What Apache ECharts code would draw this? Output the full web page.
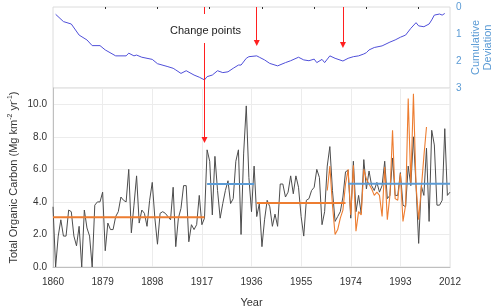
<!DOCTYPE html>
<html>
<head>
<meta charset="utf-8">
<script src="https://cdn.jsdelivr.net/npm/echarts@6/dist/echarts.min.js"></script>
<style>
  html, body { margin: 0; padding: 0; background: #fff; }
  #chart { width: 492px; height: 308px; }
</style>
</head>
<body>
<div id="chart"></div>
<script>
// years on the x axis, 1860..2012
var years = [];
for (var y = 1860; y <= 2012; y++) years.push(String(y));

// annual total organic carbon (grey line), one value per year from 1860
var tocValues = [
  3.7, 0.0, 1.9, 2.9, 1.9, 1.9, 3.5, 3.4, 1.9, 1.3,
  2.5, 0.0, 3.5, 2.4, 1.9, 0.0, 3.8, 4.0, 4.0, 4.6,
  1.0, 2.7, 2.3, 2.3, 3.1, 3.4, 4.3, 4.1, 4.0, 6.0,
  2.1, 3.8, 5.6, 2.7, 3.5, 3.3, 2.5, 4.1, 5.2, 3.0,
  1.4, 3.3, 3.4, 3.3, 3.1, 2.9, 4.9, 1.25, 3.0, 3.6,
  5.0, 5.0, 1.55, 2.6, 2.3, 2.6, 4.4, 2.6, 3.0, 7.2,
  6.5, 3.2, 6.8, 4.7, 3.0, 3.9, 4.7, 5.3, 3.9, 4.2,
  6.5, 7.2, 2.0, 7.0, 9.9, 5.5, 3.4, 6.2, 3.1, 3.9,
  1.25, 2.9, 4.1, 3.7, 2.5, 3.25, 2.5, 5.1, 5.1, 4.3,
  4.6, 5.6, 4.5, 5.6, 4.9, 3.1, 1.9, 4.1, 4.2, 4.7,
  4.9, 6.0, 5.5, 2.6, 3.4, 6.2, 7.4, 4.7, 2.8, 3.1,
  3.4, 4.3, 5.85, 5.95, 3.0, 6.5, 3.4, 4.4, 3.3, 6.6,
  4.8, 5.9, 5.0, 4.7, 5.2, 4.6, 5.0, 6.5, 4.2, 4.4,
  6.7, 4.4, 4.4, 5.8, 3.8, 3.7, 6.2, 5.0, 8.0, 5.0,
  1.45, 5.0, 4.4, 7.3, 2.8, 8.4, 7.5, 3.8, 3.8, 4.1,
  8.5, 4.4, 4.6
];

// second record (orange line), starting 1965
var orangeStart = 1965;
var orangeValues = [
  4.7, 6.2, 3.8, 2.0, 2.3, 3.0, 3.5, 5.1, 6.0, 3.2,
  6.25, 2.2, 3.4, 3.2, 6.0, 5.4, 5.1, 4.8, 4.4, 4.6,
  4.4, 3.1, 6.15, 2.9, 4.4, 8.4, 4.2, 4.1, 5.75, 2.8,
  3.8, 10.35, 5.1, 10.65, 5.0, 2.9, 4.8, 6.8, 8.6
];

// segment means between change points
var segStart = [1860, 1919, 1938, 1973];
var segEnd   = [1918, 1937, 1972, 2012];
var segMean  = [3.05, 5.1, 3.93, 5.12];

// cumulative deviation (top panel), read at these years
var cumYears = [1861, 1864, 1867, 1870, 1873, 1875, 1878, 1880, 1884, 1888,
  1889, 1891, 1892, 1894, 1898, 1900, 1904, 1906, 1907, 1909,
  1911, 1914, 1916, 1918, 1919, 1921, 1923, 1925, 1927, 1929,
  1931, 1932, 1934, 1935, 1938, 1939, 1941, 1943, 1946, 1949,
  1951, 1954, 1956, 1958, 1960, 1961, 1963, 1964, 1966, 1968,
  1971, 1973, 1975, 1977, 1979, 1980, 1981, 1983, 1986, 1989,
  1991, 1993, 1995, 1997, 1999, 2000, 2002, 2004, 2005, 2006,
  2008, 2009, 2010];
var cumValues = [0.27, 0.54, 0.63, 1.04, 1.22, 1.43, 1.43, 1.59, 1.81, 1.81,
  1.71, 1.81, 1.78, 1.86, 1.94, 2.10, 2.21, 2.27, 2.33, 2.46,
  2.36, 2.52, 2.60, 2.70, 2.58, 2.52, 2.36, 2.43, 2.40, 2.27,
  2.15, 2.15, 1.90, 1.84, 1.81, 1.86, 1.96, 2.09, 2.18, 2.06,
  1.99, 1.86, 1.96, 1.99, 1.93, 2.06, 1.94, 2.06, 1.81, 1.90,
  2.00, 1.90, 1.84, 1.81, 1.74, 1.69, 1.59, 1.50, 1.44, 1.30,
  1.22, 1.12, 1.04, 0.79, 0.58, 0.70, 0.73, 0.63, 0.48, 0.30,
  0.26, 0.30, 0.24];

// change point arrows
var changeYears = [1918, 1938, 1971];
var arrowTips = [7.8, 1.33, 1.41]; // first on bottom panel, others on top panel

var RED = '#ff1f1f';
var ORANGE = '#ed7d31';
var BLUE = '#5b9bd5';

// place readings on the year index (gaps stay empty)
function idx(yr) { return yr - 1860; }
function onYears(yrs, vals) {
  var out = years.map(function () { return null; });
  yrs.forEach(function (yr, i) { out[idx(yr)] = vals[i]; });
  return out;
}
var orangeYears = orangeValues.map(function (v, i) { return orangeStart + i; });
var orangeData = onYears(orangeYears, orangeValues);
var cumData = onYears(cumYears, cumValues);

var segSeries = segMean.map(function (m, i) {
  return {
    type: 'line', xAxisIndex: 0, yAxisIndex: 0,
    data: onYears([segStart[i], segEnd[i]], [m, m]),
    connectNulls: true,
    symbol: 'none',
    lineStyle: { color: i % 2 === 0 ? ORANGE : BLUE, width: 2 },
    z: 4
  };
});

var chart = echarts.init(document.getElementById('chart'));
chart.setOption({
  animation: false,
  textStyle: { fontFamily: 'Liberation Sans' },
  grid: [
    { left: 53, right: 42, top: 88, bottom: 41, outerBoundsMode: 'none',
      show: true, borderColor: '#e2e2e2', borderWidth: 1 },
    { left: 53, right: 42, top: 7, height: 81, outerBoundsMode: 'none',
      show: true, borderColor: '#dcdcdc', borderWidth: 1 }
  ],
  xAxis: [
    {
      type: 'category', gridIndex: 0, data: years.slice(), boundaryGap: false,
      name: 'Year', nameLocation: 'middle', nameGap: 30,
      nameTextStyle: { fontSize: 11, color: '#333' },
      axisLine: { lineStyle: { color: '#bfbfbf' } },
      axisTick: { show: false },
      axisLabel: { interval: 18, fontSize: 10, color: '#333', margin: 10 },
      splitLine: { show: true, interval: 18, lineStyle: { color: '#ececec' } }
    },
    {
      type: 'category', gridIndex: 1, data: years.slice(), boundaryGap: false, position: 'top',
      axisLine: { show: false },
      axisTick: {
        show: true, inside: true, length: 2, lineStyle: { color: '#333' },
        interval: function (i) { return i % 20 === 0 && i > 0; }
      },
      axisLabel: { show: false },
      splitLine: { show: false }
    }
  ],
  yAxis: [
    {
      type: 'value', gridIndex: 0, min: 0, max: 11, interval: 2,
      name: 'Total Organic Carbon (Mg km{sup|-2} yr{sup|-1})',
      nameLocation: 'middle', nameGap: 33, nameRotate: 90, nameMoveOverlap: false,
      nameTextStyle: {
        fontSize: 11, color: '#333', lineHeight: 13,
        rich: { sup: { fontSize: 7, color: '#333', verticalAlign: 'top', lineHeight: 13 } }
      },
      axisLine: { show: true, lineStyle: { color: '#bfbfbf' } },
      axisTick: { show: false },
      axisLabel: {
        fontSize: 10, color: '#333', margin: 6, showMaxLabel: false,
        formatter: function (v) { return v.toFixed(1); }
      },
      splitLine: { lineStyle: { color: '#ececec' } }
    },
    {
      type: 'value', gridIndex: 1, min: 0, max: 3, interval: 1, inverse: true, position: 'right',
      name: 'Cumulative\nDeviation', nameLocation: 'middle', nameGap: 20, nameRotate: 90,
      nameMoveOverlap: false,
      nameTextStyle: { fontSize: 11, color: BLUE, lineHeight: 12 },
      axisLine: { show: false },
      axisTick: { show: false },
      axisLabel: { fontSize: 10, color: BLUE, margin: 6 },
      splitLine: { show: false }
    }
  ],
  series: [
    {
      type: 'line', xAxisIndex: 0, yAxisIndex: 0, data: tocValues,
      symbol: 'none', lineStyle: { color: '#4d4d4d', width: 1 }, z: 2,
      markLine: {
        silent: true, symbol: ['none', 'triangle'], symbolSize: [6, 6],
        label: { show: false },
        lineStyle: { color: RED, width: 1, type: 'solid' },
        data: [[{ coord: [idx(changeYears[0]), 11] }, { coord: [idx(changeYears[0]), arrowTips[0]] }]]
      }
    },
    {
      type: 'line', xAxisIndex: 0, yAxisIndex: 0, data: orangeData,
      symbol: 'none', lineStyle: { color: ORANGE, width: 1.1 }, z: 3
    }
  ].concat(segSeries).concat([
    {
      type: 'line', xAxisIndex: 1, yAxisIndex: 1, data: cumData, connectNulls: true,
      symbol: 'none', lineStyle: { color: '#4f4fd9', width: 1 }, z: 2,
      markLine: {
        silent: true, symbol: ['none', 'triangle'], symbolSize: [6, 6],
        label: { show: false },
        lineStyle: { color: RED, width: 1, type: 'solid' },
        data: [
          [{ coord: [idx(changeYears[0]), 0], symbol: 'none' }, { coord: [idx(changeYears[0]), 3], symbol: 'none' }],
          [{ coord: [idx(changeYears[1]), 0] }, { coord: [idx(changeYears[1]), arrowTips[1]] }],
          [{ coord: [idx(changeYears[2]), 0] }, { coord: [idx(changeYears[2]), arrowTips[2]] }]
        ]
      }
    }
  ]),
  graphic: [
    {
      type: 'text', left: 168, top: 14, z: 100,
      style: {
        text: 'Change points', fontSize: 11, fontFamily: 'Liberation Sans', fill: '#222',
        backgroundColor: '#fff', padding: [11, 2, 7, 2]
      }
    }
  ]
});
window.addEventListener('resize', function () { chart.resize(); });
</script>
</body>
</html>
